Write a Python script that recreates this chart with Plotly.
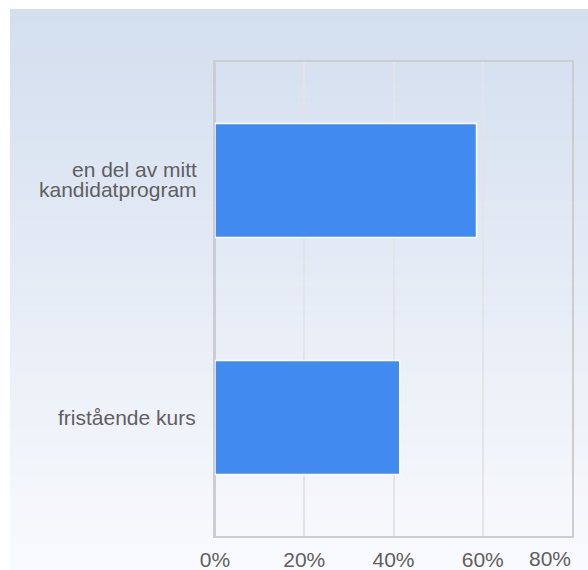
import plotly.graph_objects as go

categories = ["en del av mitt<br>kandidatprogram", "fristående kurs"]
values = [58.6, 41.4]
tick_vals = [0, 20, 40, 60, 80]
tick_text = ["0%", "20%", "40%", "60%", "80%"]

W, H = 588, 570
ML, MR, MT, MB = 215, 16, 62, 34
PW, PH = W - ML - MR, H - MT - MB

fig = go.Figure()
fig.add_trace(go.Bar(
    y=categories, x=values, orientation="h",
    marker=dict(color="#418BF0", line=dict(color="#FFFFFF", width=1.5)),
    width=0.48, hoverinfo="x+y",
))

# vertical gradient background (decorative)
shapes = []
n = 90
top_px, bot_px, left_px = 9, H, 10
c0 = (211, 222, 239)
c1 = (249, 250, 253)
for i in range(n):
    p0 = top_px + (bot_px - top_px) * i / n
    p1 = top_px + (bot_px - top_px) * (i + 1) / n + 0.6
    t = i / (n - 1)
    c = tuple(round(c0[k] + (c1[k] - c0[k]) * t) for k in range(3))
    shapes.append(dict(
        type="rect", xref="paper", yref="paper", layer="below",
        x0=(left_px - ML) / PW, x1=(W - ML) / PW,
        y0=(H - MB - p1) / PH, y1=(H - MB - p0) / PH,
        fillcolor="rgb(%d,%d,%d)" % c, line=dict(width=0),
    ))

font = dict(family="Liberation Sans, Arial, sans-serif", size=21, color="#5F5F5F")

# category labels, one annotation per line (tighter line spacing)
annotations = []
LINE = 20
for cat in categories:
    lines = cat.split("<br>")
    k = len(lines)
    for j, ln in enumerate(lines):
        a = dict(
            text=ln, xref="paper", yref="y", x=0, y=cat,
            xanchor="right", yanchor="middle", xshift=-17,
            yshift=((k - 1) / 2 - j) * LINE, showarrow=False, font=font,
        )
        if k > 1:
            a.update(height=LINE, valign="bottom", borderpad=0)
        annotations.append(a)

# last x tick label is kept inside the plot's right edge
annotations.append(dict(
    text=tick_text[-1], xref="x", yref="paper", x=tick_vals[-1], y=0,
    xanchor="right", yanchor="top", yshift=-10, showarrow=False, font=font,
    height=20, valign="top", borderpad=0,
))

fig.update_layout(
    width=W, height=H,
    margin=dict(l=ML, r=MR, t=MT, b=MB, autoexpand=False),
    paper_bgcolor="#FFFFFF", plot_bgcolor="rgba(0,0,0,0)",
    shapes=shapes, annotations=annotations, showlegend=False, bargap=0.52,
    font=font,
    xaxis=dict(
        range=[0, 80], tickvals=tick_vals[:-1], ticktext=tick_text[:-1],
        showgrid=True, gridcolor="#E2E4E8", gridwidth=1.5,
        zeroline=True, zerolinecolor="#C5CFE2", zerolinewidth=2,
        showline=True, linecolor="#CDCDCD", linewidth=1.5, mirror=True,
        ticks="", ticklabelstandoff=4, fixedrange=True, automargin=False,
    ),
    yaxis=dict(
        autorange="reversed", showgrid=False, zeroline=False,
        showline=True, linecolor="#CDCDCD", linewidth=1.5, mirror=True,
        ticks="", showticklabels=False, fixedrange=True, automargin=False,
    ),
)

fig.write_html(
    "out.html",
    config={"displayModeBar": False},
    post_script="document.body.style.margin='0';document.body.style.overflow='hidden';",
)
